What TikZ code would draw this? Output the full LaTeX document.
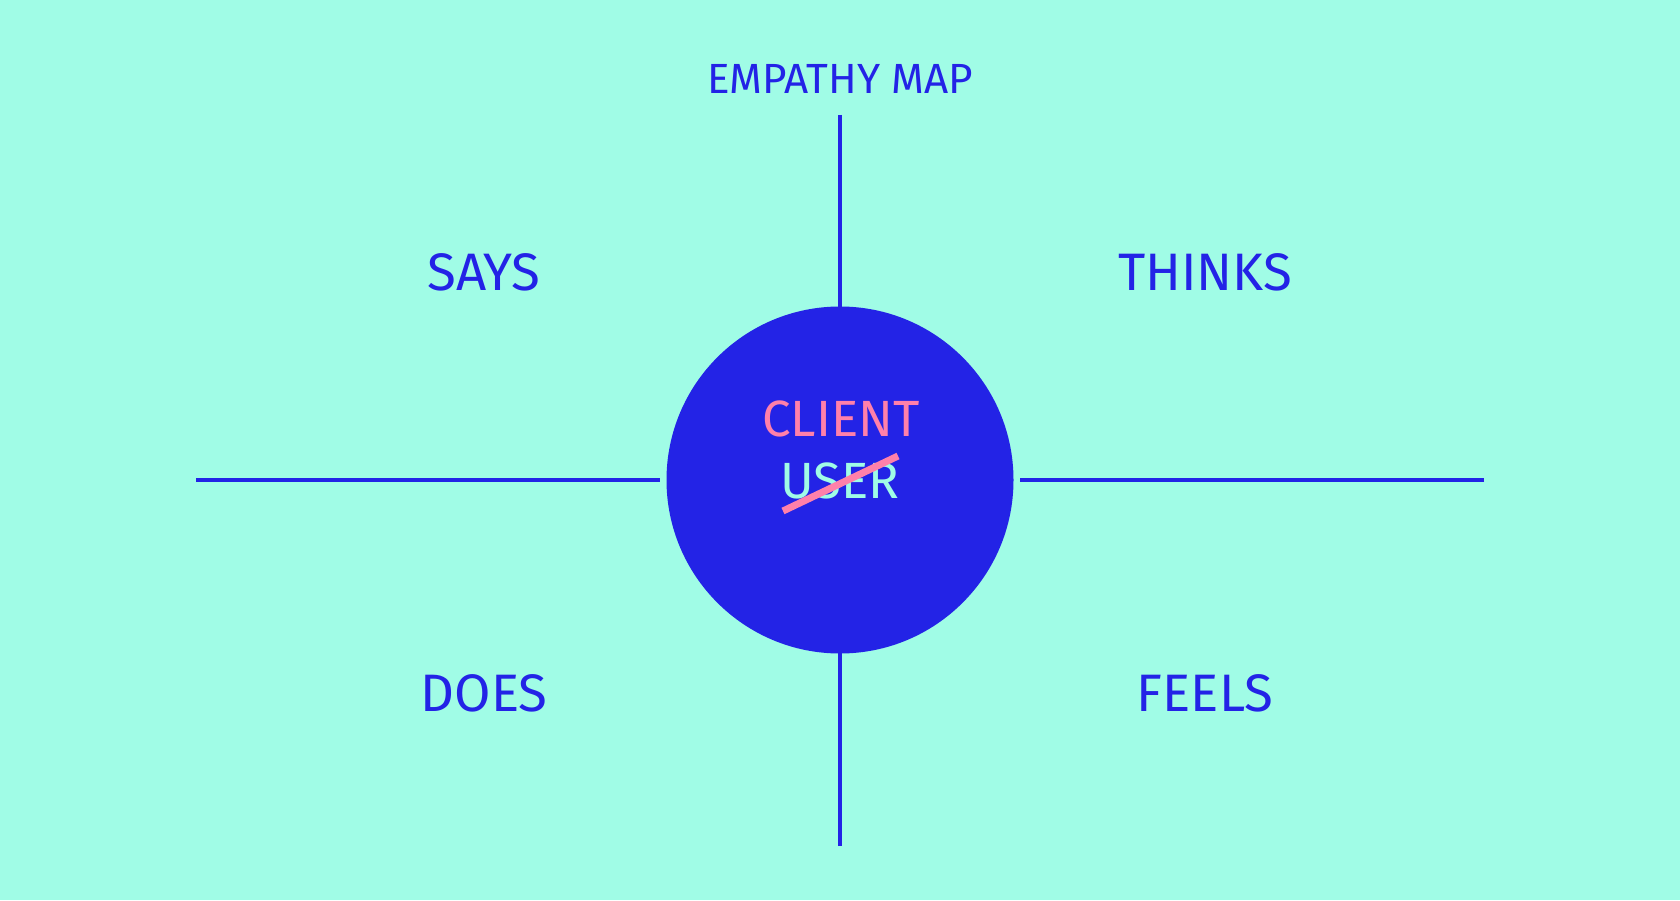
\documentclass[tikz,border=0pt]{standalone}
\usepackage{fontspec}
\setmainfont{Fira Sans}
\definecolor{mint}{HTML}{A0FCE6}
\definecolor{ink}{HTML}{2323E6}
\definecolor{rose}{HTML}{FF80AA}
\tikzset{
  quad/.style={text=ink, font=\fontsize{15}{15}\selectfont},
  axis/.style={draw=ink, line width=0.9pt}
}
\begin{document}
\begin{tikzpicture}
    \fill [mint] (0,0) rectangle (16.8,9);
    \useasboundingbox (0,0) rectangle (16.8,9);
    \node [circle, fill=ink, minimum size=3.47cm, inner sep=0] (hub) at (8.4,4.2) {};
    \node [text=ink, font=\fontsize{12}{12}\selectfont] (title) at (8.4,8.21) {EMPATHY MAP};
    \node [text=rose, font=\fontsize{14.5}{14.5}\selectfont] (client) at (8.41,4.81) {CLIENT};
    \node [text=mint, font=\fontsize{14.5}{14.5}\selectfont] (user) at (8.4,4.19) {USER};
    \node [quad] (says) at (4.84,6.28) {SAYS};
    \node [quad] (thinks) at (12.05,6.28) {THINKS};
    \node [quad] (does) at (4.84,2.07) {DOES};
    \node [quad] (feels) at (12.05,2.07) {FEELS};
    \coordinate (n) at (8.4,7.85);
    \coordinate (s) at (8.4,0.54);
    \coordinate (w) at (1.96,4.2);
    \coordinate (e) at (14.84,4.2);
    \draw [axis] (n) -- ([yshift=-0.06cm]hub.north);
    \draw [axis] (s) -- ([yshift=0.06cm]hub.south);
    \draw [axis] (w) -- ([xshift=-0.06cm]hub.west);
    \draw [axis] (e) -- ([xshift=0.06cm]hub.east);
    \draw [rose, line width=2pt] ([xshift=-0.57cm,yshift=-0.3cm]user.center) -- ([xshift=0.58cm,yshift=0.25cm]user.center);
\end{tikzpicture}
\end{document}
